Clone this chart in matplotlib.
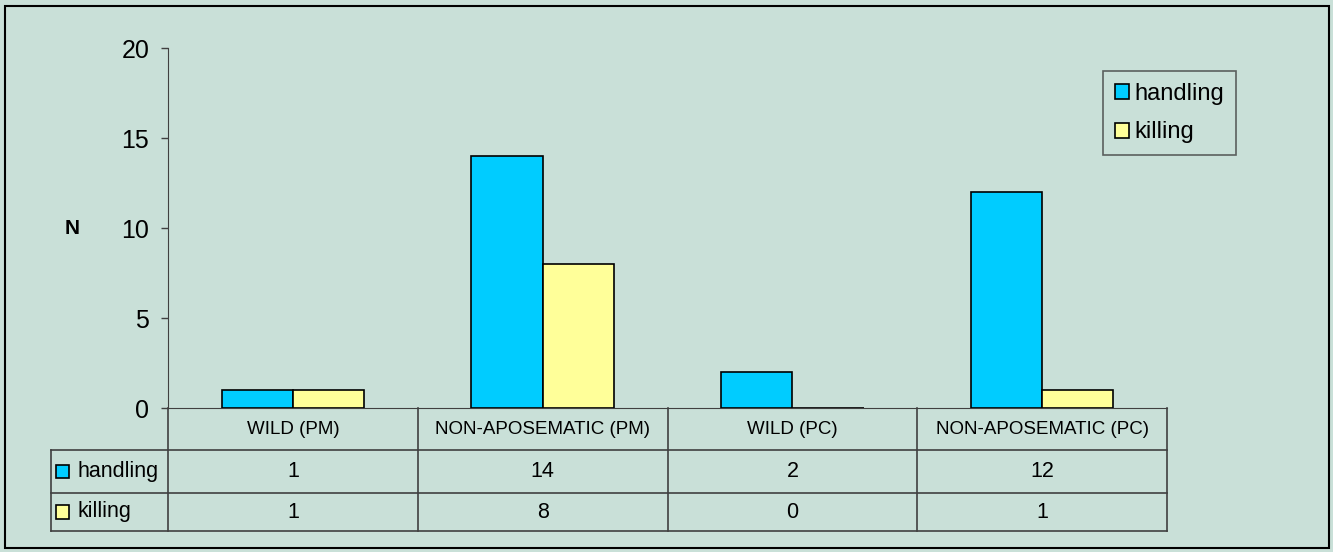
import matplotlib.pyplot as plt
import matplotlib.transforms as mtransforms
from matplotlib.patches import Rectangle
import numpy as np

plt.rcParams["font.family"] = ["Liberation Sans", "DejaVu Sans"]

categories = ["WILD (PM)", "NON-APOSEMATIC (PM)", "WILD (PC)", "NON-APOSEMATIC (PC)"]
series = ["handling", "killing"]
handling = [1, 14, 2, 12]
killing = [1, 8, 0, 1]
colors = ["#00CCFF", "#FFFF99"]
bg = "#C9E0D8"
grid_col = "#404040"

W, H = 1333, 552
fig = plt.figure(figsize=(W / 100, H / 100), dpi=100)
fig.patch.set_facecolor(bg)

# outer chart-area border
fig.add_artist(Rectangle((5 / W, 4 / H), 1324 / W, 542 / H, transform=fig.transFigure,
                         fill=False, edgecolor="black", linewidth=1.5))

left, right, top, bottom = 168, 1167, 48, 408
ax = fig.add_axes([left / W, 1 - bottom / H, (right - left) / W, (bottom - top) / H])
ax.set_facecolor(bg)

x = np.arange(len(categories)) + 0.5
width = 0.285
values = [handling, killing]
for i, (name, vals) in enumerate(zip(series, values)):
    ax.bar(x + (i - 0.5) * width, vals, width, color=colors[i], edgecolor="black",
           linewidth=1.2, label=name, zorder=3)

ax.set_xlim(0, len(categories))
ax.set_ylim(0, 20)
ax.set_yticks([0, 5, 10, 15, 20])
ax.tick_params(axis="y", direction="out", length=5, width=1, color=grid_col,
               labelsize=18, pad=8.5)
ax.set_xticks([])
for s in ["top", "right"]:
    ax.spines[s].set_visible(False)
ax.spines["left"].set_color(grid_col)
ax.spines["bottom"].set_color(grid_col)

fig.text(72 / W, 1 - 229 / H, "N", fontsize=15, fontweight="bold", ha="center", va="center")

# data table underneath the plot
trans = mtransforms.blended_transform_factory(ax.transData, ax.transAxes)
ph = bottom - top
def yax(py):
    return -(py - bottom) / ph

x_lab = (51 - left) / 250
rows_y = [yax(450), yax(493), yax(531)]
line_kw = dict(transform=trans, color=grid_col, linewidth=1.2, clip_on=False)
for k in range(len(categories) + 1):
    ax.plot([k, k], [0, rows_y[-1]], **line_kw)
for yy in rows_y:
    ax.plot([x_lab, len(categories)], [yy, yy], **line_kw)
ax.plot([x_lab, x_lab], [rows_y[0], rows_y[-1]], **line_kw)

for k, cat in enumerate(categories):
    ax.text(x[k], (0 + rows_y[0]) / 2, cat, transform=trans, ha="center", va="center",
            fontsize=13.5)
row_mid = [(rows_y[0] + rows_y[1]) / 2, (rows_y[1] + rows_y[2]) / 2]
for r, (name, vals) in enumerate(zip(series, values)):
    for k, v in enumerate(vals):
        ax.text(x[k], row_mid[r], str(v), transform=trans, ha="center", va="center",
                fontsize=15.5)
    ax.add_patch(Rectangle((x_lab + 0.02, row_mid[r] - 0.019), 0.052, 0.038, transform=trans,
                           facecolor=colors[r], edgecolor="black", linewidth=1.2,
                           clip_on=False))
    ax.text(x_lab + 0.105, row_mid[r], name, transform=trans, ha="left", va="center",
            fontsize=15.5)

leg = ax.legend(loc="upper left", bbox_to_anchor=((1103 - left) / (right - left), 1 - (71 - top) / ph),
                frameon=True, fancybox=False, fontsize=17, handlelength=0.6,
                handleheight=0.6, handletextpad=0.25, labelspacing=0.7,
                borderpad=0.5, borderaxespad=0)
leg.get_frame().set_edgecolor(grid_col)
leg.get_frame().set_facecolor(bg)
leg.get_frame().set_linewidth(1.2)

fig.savefig("out.png", dpi=100, facecolor=bg)
